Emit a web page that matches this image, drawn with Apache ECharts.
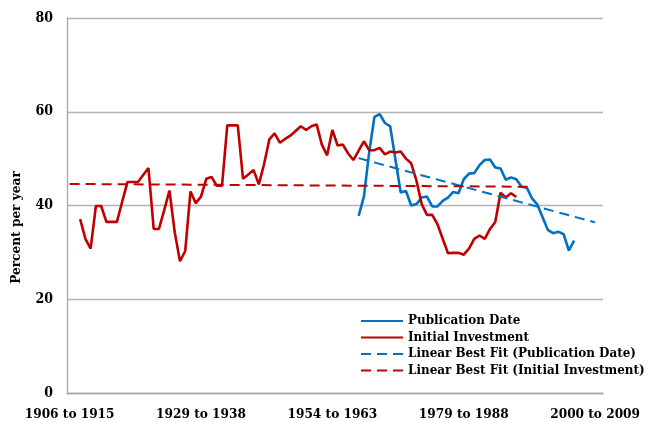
<!DOCTYPE html>
<html>
<head>
<meta charset="utf-8">
<script src="https://cdn.jsdelivr.net/npm/echarts@6/dist/echarts.min.js"></script>
<style>
  html, body { margin: 0; padding: 0; background: #fff; }
  #chart { width: 648px; height: 421px; }
</style>
</head>
<body>
<div id="chart"></div>
<script>
// rolling ten-year windows; only every 25th one is labelled on the axis
const tickLabels = ['1906 to 1915', '1929 to 1938', '1954 to 1963', '1979 to 1988', '2000 to 2009'];
const categoryCount = 102;
const categories = Array.from({ length: categoryCount }, (_, i) => (i % 25 === 0 ? tickLabels[i / 25] : ''));

// Initial Investment, starts at category 2
const investStart = 2;
const investValues = [
  37.1, 32.9, 30.8, 39.9, 39.9, 36.5, 36.5, 36.5, 40.8, 45.0,
  45.0, 45.0, 46.5, 48.0, 35.0, 35.0, 39.0, 43.2, 34.3, 28.1,
  30.3, 43.0, 40.5, 41.9, 45.7, 46.1, 44.2, 44.2, 57.1, 57.1,
  57.1, 45.7, 46.6, 47.6, 44.5, 48.8, 54.1, 55.4, 53.4, 54.2,
  54.9, 55.9, 56.9, 56.1, 56.9, 57.3, 53.0, 50.7, 56.1, 52.8,
  53.0, 51.1, 49.7, 51.7, 53.7, 51.8, 51.8, 52.3, 50.9, 51.5,
  51.3, 51.5, 50.0, 49.0, 45.3, 40.3, 38.0, 38.0, 36.0, 32.9,
  29.8, 29.9, 29.9, 29.5, 30.8, 32.9, 33.6, 32.9, 35.0, 36.5,
  42.7, 41.7, 42.6, 41.8
];

// Publication Date, starts at category 55
const pubStart = 55;
const pubValues = [
  37.8, 41.9, 51.3, 58.9, 59.5, 57.6, 56.9, 49.8, 42.8, 43.1,
  40.0, 40.3, 41.7, 41.9, 39.8, 39.8, 41.0, 41.7, 42.9, 42.6,
  45.6, 46.8, 46.9, 48.6, 49.7, 49.8, 48.1, 47.9, 45.5, 46.0,
  45.6, 44.0, 43.8, 41.5, 40.2, 37.5, 34.8, 34.1, 34.4, 33.9,
  30.4, 32.5
];

// trend line end points [category index, value]
const pubTrend = [[55, 50.1], [100, 36.4]];
const investTrend = [[0, 44.6], [88, 44.0]];

const BLUE = '#0070C0';
const RED = '#C00000';
const FONT = "'DejaVu Serif Condensed', 'DejaVu Serif', serif";

const toPairs = (start, vals) => vals.map((v, k) => [start + k, v]);

const chart = echarts.init(document.getElementById('chart'));

chart.setOption({
  animation: false,
  textStyle: { fontFamily: FONT },
  grid: { left: 67, right: 45, top: 18, bottom: 26 },
  legend: {
    orient: 'vertical',
    left: 355,
    top: 308,
    itemWidth: 42,
    itemHeight: 16,
    itemGap: 0.5,
    itemStyle: { opacity: 0 },
    textStyle: { fontFamily: FONT, fontWeight: 'bold', fontSize: 13.3, lineHeight: 16, color: '#000' },
    data: ['Publication Date', 'Initial Investment', 'Linear Best Fit (Publication Date)', 'Linear Best Fit (Initial Investment)'],
  },
  xAxis: {
    type: 'category',
    data: categories,
    boundaryGap: true,
    axisLine: { lineStyle: { color: '#A6A6A6', width: 1.3 } },
    axisTick: { interval: 24, length: 5, lineStyle: { color: '#A6A6A6' } },
    axisLabel: {
      interval: 24,
      margin: 14,
      color: '#000',
      fontFamily: FONT,
      fontWeight: 'bold',
      fontSize: 13.5,
    },
  },
  yAxis: {
    type: 'value',
    min: 0, max: 80, interval: 20,
    name: 'Percent per year',
    nameLocation: 'middle',
    nameGap: 44,
    nameTextStyle: {
      color: '#000', fontFamily: FONT, fontWeight: 'bold', fontSize: 13.5,
      padding: [0, 44, 0, 0],
    },
    axisLine: { show: true, lineStyle: { color: '#A6A6A6', width: 1.3 } },
    axisTick: { show: false },
    axisLabel: { margin: 14, color: '#000', fontFamily: FONT, fontWeight: 'bold', fontSize: 14 },
    splitLine: { lineStyle: { color: '#B3B3B3', width: 1.3 } },
  },
  series: [
    {
      name: 'Publication Date', type: 'line',
      data: toPairs(pubStart, pubValues),
      symbol: 'none',
      lineStyle: { color: BLUE, width: 2.6 },
      itemStyle: { color: BLUE },
    },
    {
      name: 'Initial Investment', type: 'line',
      data: toPairs(investStart, investValues),
      symbol: 'none',
      lineStyle: { color: RED, width: 2.6 },
      itemStyle: { color: RED },
    },
    {
      name: 'Linear Best Fit (Publication Date)', type: 'line',
      data: pubTrend,
      symbol: 'none',
      lineStyle: { color: BLUE, width: 2, type: [10, 6] },
      itemStyle: { color: BLUE },
    },
    {
      name: 'Linear Best Fit (Initial Investment)', type: 'line',
      data: investTrend,
      symbol: 'none',
      lineStyle: { color: RED, width: 2, type: [10, 6] },
      itemStyle: { color: RED },
    },
  ],
});
</script>
</body>
</html>
